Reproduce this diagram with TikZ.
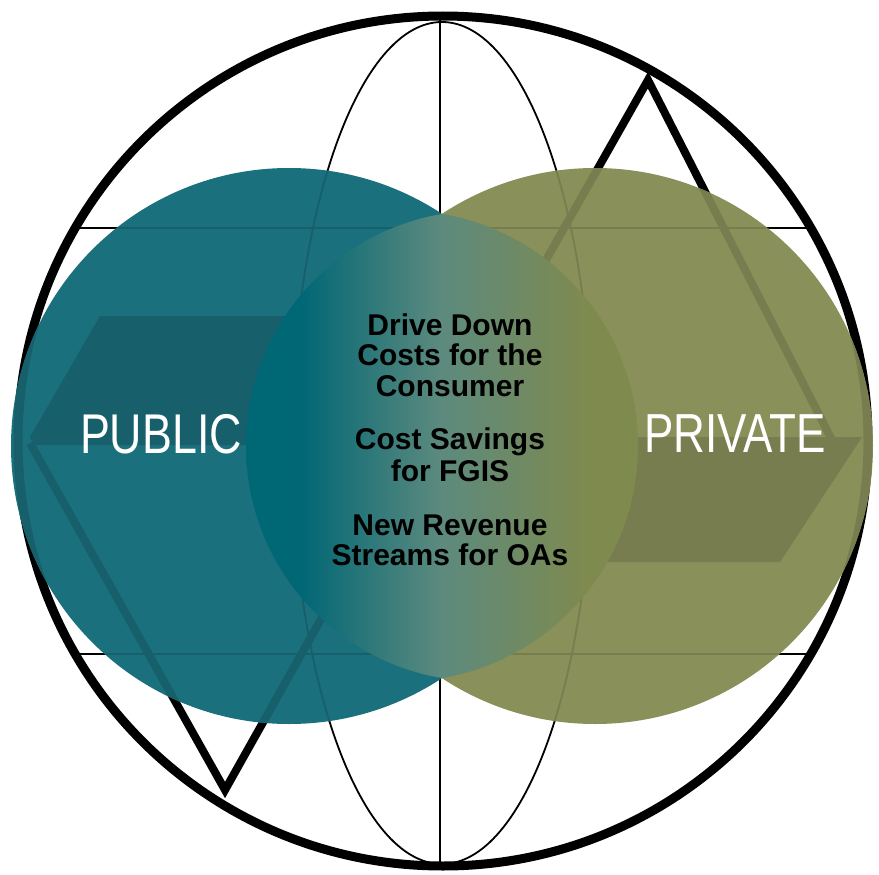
\documentclass[tikz,border=0pt]{standalone}
\usepackage{fontspec}
\setmainfont{Liberation Sans}
\newfontfamily\narrowsans[FakeStretch=0.8]{Liberation Sans}
\definecolor{tealc}{RGB}{27,112,125}
\definecolor{tealdk}{RGB}{22,95,107}
\definecolor{olivec}{RGB}{137,144,90}
\definecolor{olivedk}{RGB}{119,125,78}
\definecolor{lensl}{RGB}{0,103,117}
\definecolor{lensm}{RGB}{92,138,126}
\definecolor{lensr}{RGB}{127,138,78}
\pgfdeclarehorizontalshading{lensgrad}{100bp}{color(0bp)=(lensl); color(39.1bp)=(lensl); color(54bp)=(lensm); color(69.7bp)=(lensr); color(100bp)=(lensr)}
\newcommand{\globeart}[1]{%
  \draw[line width=9pt,#1] (443,441) circle[radius=425pt];
  \draw[line width=1.8pt,#1] (442,443) ellipse[x radius=150pt,y radius=421pt];
  \draw[line width=1.8pt,#1] (440,18) -- (440,866);
  \draw[line width=1.6pt,#1] (75,228) -- (811,228);
  \draw[line width=1.6pt,#1] (75,654) -- (811,654);
  \draw[line width=8pt,#1,line join=miter] (444,440) -- (648,80) -- (832,440);
  \draw[line width=8pt,#1,line join=miter] (30,443) -- (225,790) -- (420,443);
  \fill[#1] (100,316) -- (30,437) -- (34,445) -- (440,445) -- (440,316) -- cycle;
  \fill[#1] (862,437) -- (780,562) -- (440,562) -- (440,437) -- cycle;
}
\tikzset{
  sidelabel/.style={text=white,inner sep=0pt},
  centerlabel/.style={text=black,inner sep=0pt,font=\bfseries\fontsize{30}{36}\selectfont}
}
\begin{document}
\begin{tikzpicture}[x=1pt,y=-1pt]
  \useasboundingbox (0,0) rectangle (879,875);
  \fill[white] (0,0) rectangle (879,875);
  % base line drawing
  \globeart{black}
  % circles
  \fill[tealc] (289,446) circle[radius=278pt];
  \fill[olivec] (595,446) circle[radius=278pt];
  % line drawing seen through the circles
  \begin{scope}
    \clip (289,446) circle[radius=278pt];
    \globeart{tealdk}
  \end{scope}
  \begin{scope}
    \clip (595,446) circle[radius=278pt];
    \globeart{olivedk}
  \end{scope}
  % overlap lens
  \begin{scope}
    \clip (481.3,446) circle[radius=235.3pt];
    \shade[shading=lensgrad] (402.7,446) circle[radius=235.3pt];
  \end{scope}
  % labels
  \node[sidelabel,anchor=base,font=\narrowsans\fontsize{56}{60}\selectfont] (pub) at (161,453) {PUBLIC};
  \node[sidelabel,anchor=base,font=\narrowsans\fontsize{55}{60}\selectfont] (priv) at (735,452) {PRIVATE};
  \node[centerlabel,anchor=base] (t1) at (450,335) {Drive Down};
  \node[centerlabel,anchor=base] (t2) at (450,365) {Costs for the};
  \node[centerlabel,anchor=base] (t3) at (450,396) {Consumer};
  \node[centerlabel,anchor=base] (t4) at (450,449) {Cost Savings};
  \node[centerlabel,anchor=base] (t5) at (450,481) {for FGIS};
  \node[centerlabel,anchor=base] (t6) at (450,535) {New Revenue};
  \node[centerlabel,anchor=base] (t7) at (450,565) {Streams for OAs};
\end{tikzpicture}
\end{document}
